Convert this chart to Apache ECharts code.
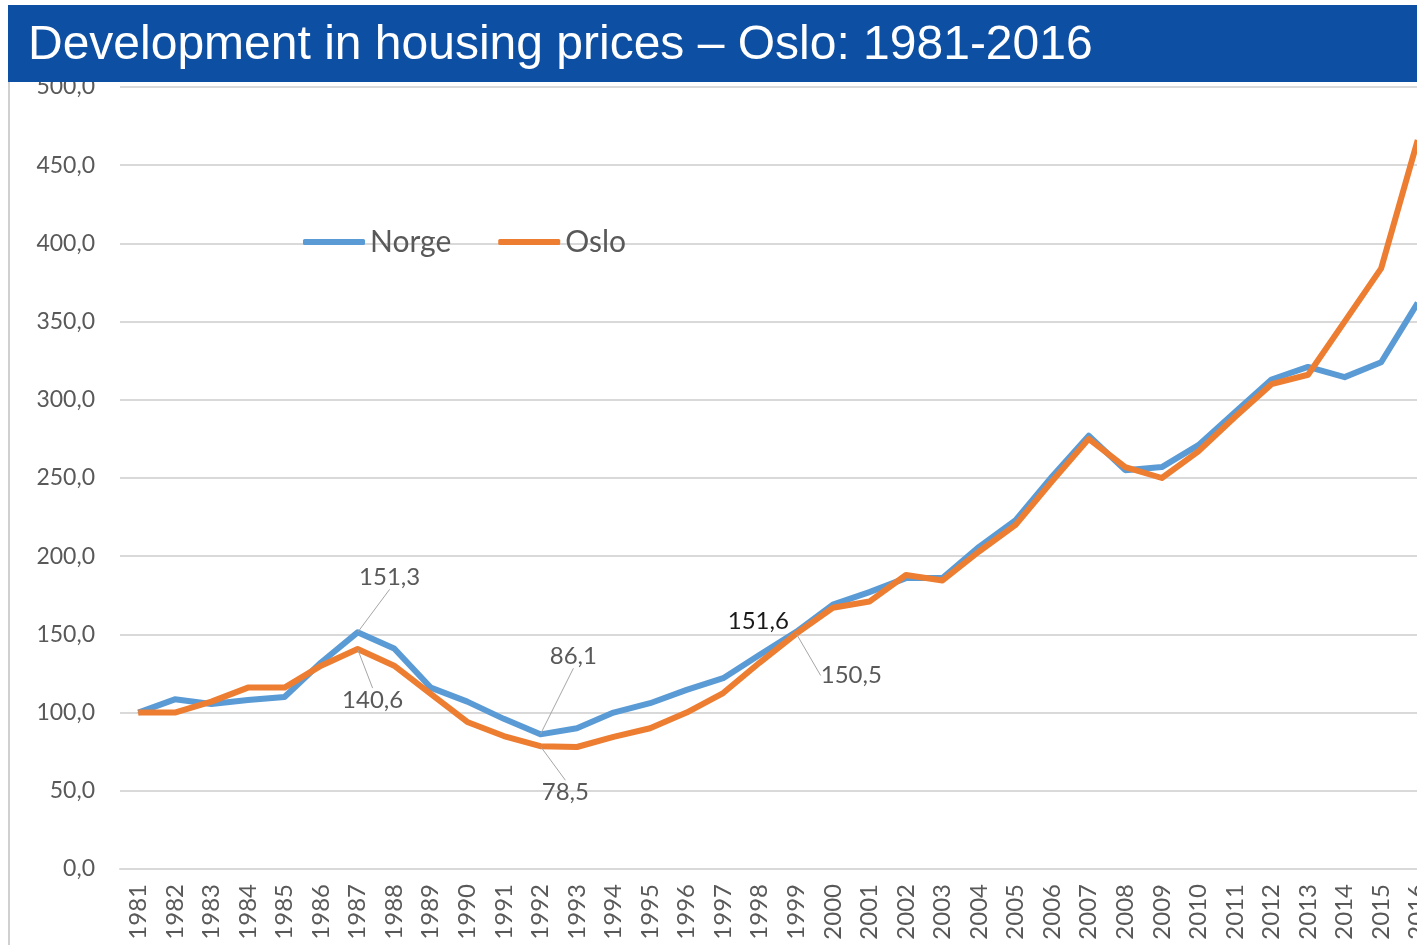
<!DOCTYPE html>
<html>
<head>
<meta charset="utf-8">
<title>Development in housing prices - Oslo</title>
<script src="https://cdn.jsdelivr.net/npm/echarts@6/dist/echarts.min.js"></script>
<style>
  html, body { margin: 0; padding: 0; background: #fff; overflow: hidden; }
  /* the plot runs a bit past the right edge, like the cropped slide */
  #main { width: 1436px; height: 945px; }
</style>
</head>
<body>
<div id="main"></div>
<script>
// years on the x axis
var years = ['1981','1982','1983','1984','1985','1986','1987','1988','1989','1990',
             '1991','1992','1993','1994','1995','1996','1997','1998','1999','2000',
             '2001','2002','2003','2004','2005','2006','2007','2008','2009','2010',
             '2011','2012','2013','2014','2015','2016'];

// index, 1981 = 100
var norge = [100, 108.5, 105.5, 108, 110, 132, 151.3, 141, 116, 107,
             96, 86.1, 90, 100, 106, 114.5, 122, 137, 151.6, 169,
             177, 186, 186, 206, 223, 251, 277, 255, 257, 271,
             292, 313, 321, 314.5, 324, 362];
var oslo  = [100, 100, 107, 116, 116, 130, 140.6, 130, 112, 94,
             85, 78.5, 78, 84.5, 90, 100, 112.5, 132, 150.5, 167,
             171, 188, 184.5, 203, 220, 248, 275, 257, 250, 267,
             289, 310, 316, 350, 384, 466];

// y ticks
var yMin = 0, yMax = 500, yStep = 50;

// which points get a value label
var norgeLabelled = ['1987', '1992', '1999'];
var osloLabelled  = ['1987', '1992', '1999'];

// where the labels are pushed to (pixels from the point)
var labelShift = {
  '0-1987': [32, -55], '0-1992': [33, -78], '0-1999': [-38, -11],
  '1-1987': [15, 51],  '1-1992': [25, 46],  '1-1999': [55, 42]
};

function fmt(v) {
  return v.toFixed(1).replace('.', ',');
}

function build(values, labelled, dark) {
  return values.map(function (v, i) {
    if (labelled.indexOf(years[i]) < 0) return v;
    var item = { value: v, label: { show: true } };
    if (dark && dark.indexOf(years[i]) >= 0) {
      item.label.color = '#1a1a1a';
      item.labelLine = { show: false };
    }
    return item;
  });
}

var myChart = echarts.init(document.getElementById('main'), null, { renderer: 'canvas' });

var FONT = 'Lato, "Noto Sans", sans-serif';

var labelCommon = {
  show: false,
  position: 'inside',
  fontFamily: FONT,
  fontSize: 24,
  color: '#595959',
  formatter: function (p) { return fmt(p.value); }
};

var option = {
  animation: false,
  backgroundColor: '#ffffff',
  grid: { left: 120, top: 87, right: 0, height: 782 },
  legend: {
    left: 298, top: 222,
    itemWidth: 62, itemHeight: 6, itemGap: 47,
    icon: 'roundRect',
    textStyle: { fontFamily: FONT, fontSize: 30, color: '#595959', padding: [0, 0, 0, 0] },
    data: ['Norge', 'Oslo']
  },
  xAxis: {
    type: 'category',
    data: years,
    boundaryGap: true,
    axisLine: { lineStyle: { color: '#d9d9d9', width: 2 } },
    axisTick: { show: false },
    axisLabel: {
      rotate: 90, margin: 15, interval: 0,
      fontFamily: FONT, fontSize: 24, color: '#595959'
    }
  },
  yAxis: {
    type: 'value',
    min: yMin, max: yMax, interval: yStep,
    axisLine: { show: false },
    axisTick: { show: false },
    splitLine: { lineStyle: { color: '#d9d9d9', width: 2 } },
    axisLabel: {
      margin: 25,
      fontFamily: FONT, fontSize: 23, color: '#595959',
      formatter: function (v) { return fmt(v); }
    }
  },
  series: [
    {
      name: 'Norge', type: 'line',
      data: build(norge, norgeLabelled, ['1999']),
      symbol: 'circle', symbolSize: 1, showSymbol: true,
      itemStyle: { color: '#5b9bd5' },
      lineStyle: { color: '#5b9bd5', width: 6, join: 'round' },
      label: labelCommon,
      labelLine: { show: true, lineStyle: { color: '#a6a6a6', width: 1 } },
      z: 2
    },
    {
      name: 'Oslo', type: 'line',
      data: build(oslo, osloLabelled),
      symbol: 'circle', symbolSize: 1, showSymbol: true,
      itemStyle: { color: '#ed7d31' },
      lineStyle: { color: '#ed7d31', width: 6, join: 'round' },
      label: labelCommon,
      labelLine: { show: true, lineStyle: { color: '#a6a6a6', width: 1 } },
      z: 3
    }
  ],
  labelLayout: function (params) {
    var key = params.seriesIndex + '-' + years[params.dataIndex];
    var s = labelShift[key];
    if (!s) return {};
    return { dx: s[0], dy: s[1] };
  },
  graphic: [
    {
      type: 'rect', z: 100,
      shape: { x: 8, y: 5, width: 1428, height: 77 },
      style: { fill: '#0d4fa3' }
    },
    {
      type: 'text', z: 101,
      x: 28, y: 46,
      style: {
        text: 'Development in housing prices \u2013 Oslo: 1981-2016',
        fill: '#ffffff',
        font: '48px "Liberation Sans", Arial, sans-serif',
        verticalAlign: 'middle'
      }
    },
    {
      type: 'line', z: 100,
      shape: { x1: 9, y1: 82, x2: 9, y2: 945 },
      style: { stroke: '#d0d0d0', lineWidth: 2 }
    }
  ]
};

myChart.setOption(option);
</script>
</body>
</html>
